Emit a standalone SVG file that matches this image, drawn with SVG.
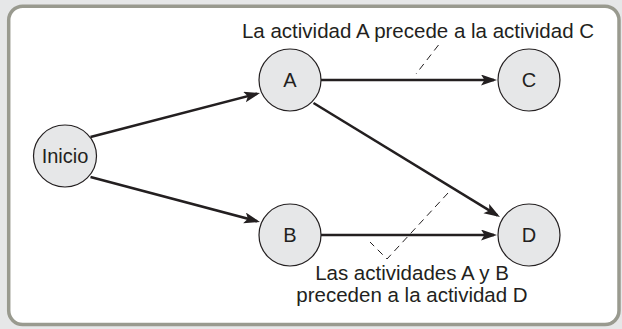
<svg xmlns="http://www.w3.org/2000/svg" width="622" height="329" viewBox="0 0 622 329">
<style>
.node{fill:#e6e7e8;stroke:#231f20;stroke-width:1.2}
.lbl{font-family:"Liberation Sans",Arial,sans-serif;font-size:20px;fill:#231f20;text-anchor:middle}
.note{font-size:20.5px}
.edge{stroke:#231f20;stroke-width:2.5;fill:none}
.dash{stroke:#231f20;stroke-width:1;fill:none;stroke-dasharray:7,5}
</style>
<defs>
<marker id="arr" markerUnits="userSpaceOnUse" markerWidth="17" markerHeight="12" refX="13" refY="5.5" orient="auto">
<path d="M0,0 L16,5.5 L0,11 L3.5,5.5 z" fill="#231f20"/>
</marker>
</defs>
<rect x="0" y="0" width="622" height="329" fill="#e6e7e8"/>
<rect x="8.7" y="6.2" width="610.3" height="318.3" rx="14" ry="14" fill="#ffffff" stroke="#999a8f" stroke-width="3.5"/>
<g id="connectors">
<line class="edge" x1="90.5" y1="137" x2="257.1" y2="93.75" marker-end="url(#arr)"/>
<line class="edge" x1="90.5" y1="177" x2="257.1" y2="221.2" marker-end="url(#arr)"/>
<line class="edge" x1="321" y1="80" x2="494" y2="80" marker-end="url(#arr)"/>
<line class="edge" x1="313.5" y1="103" x2="497.4" y2="215.4" marker-end="url(#arr)"/>
<line class="edge" x1="321" y1="235" x2="494" y2="235" marker-end="url(#arr)"/>
<line class="dash" x1="438.5" y1="45" x2="416" y2="74"/>
<polyline class="dash" points="448,193 387,259 370,242"/>
</g>
<g id="node-inicio"><ellipse class="node" cx="65" cy="156" rx="31.5" ry="31"/><text class="lbl" x="65" y="163">Inicio</text></g>
<g id="node-a"><ellipse class="node" cx="290" cy="80" rx="31" ry="31"/><text class="lbl" x="290" y="87">A</text></g>
<g id="node-b"><ellipse class="node" cx="290" cy="235" rx="31" ry="31"/><text class="lbl" x="290" y="242">B</text></g>
<g id="node-c"><ellipse class="node" cx="529" cy="80" rx="31" ry="31"/><text class="lbl" x="529" y="87">C</text></g>
<g id="node-d"><ellipse class="node" cx="529" cy="235" rx="31" ry="31"/><text class="lbl" x="529" y="242">D</text></g>
<g id="notes">
<text class="lbl note" x="418" y="38">La actividad A precede a la actividad C</text>
<text class="lbl note" x="412" y="280">Las actividades A y B</text>
<text class="lbl note" x="412" y="302">preceden a la actividad D</text>
</g>
</svg>
